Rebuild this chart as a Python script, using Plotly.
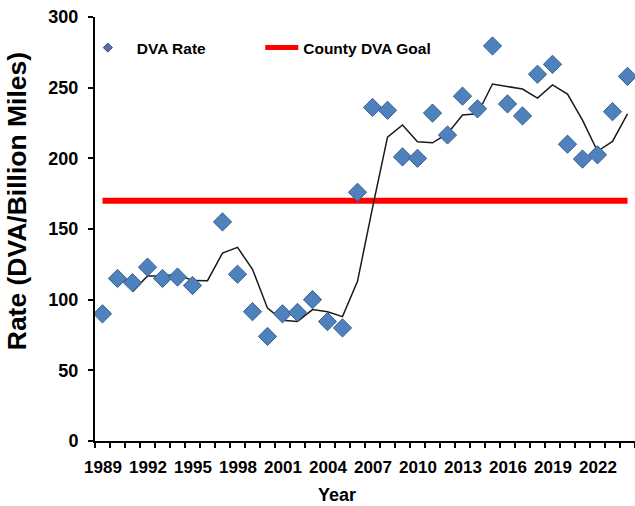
import plotly.graph_objects as go

years = list(range(1989, 2025))
dva_rate = [90, 115, 112, 123, 115, 116, 110, None, 155, 118, 91.5, 74, 90, 91, 100, 84.5,
            80, 176, 236, 234, 201, 200, 232, 216.5, 244, 235, 279.5, 238.5, 230, 259.5,
            266.5, 210, 199.5, 202.5, 233, 258]
moving_avg = [None, None, 105.7, 116.7, 116.7, 118, 113.5, 113.4, 133, 137, 121.5, 94,
              85.5, 84.5, 93, 91.5, 88, 113, 165, 215, 223.6, 211.8, 211, 217.5, 230.7,
              231.5, 252.6, 250.8, 249, 242.6, 252, 245.5, 227, 205, 212, 231.5]
goal = 170
label_years = [1989, 1992, 1995, 1998, 2001, 2004, 2007, 2010, 2013, 2016, 2019, 2022]
y_ticks = [0, 50, 100, 150, 200, 250, 300]

FONT = "Arial, Liberation Sans, sans-serif"
BLUE = "#4f81bd"
EDGE = "#34608f"

# category boundaries for tick marks; labels shifted to category centres
boundaries = [y - 0.5 for y in years] + [years[-1] + 0.5]
boundary_text = [str(int(b + 0.5)) if int(b + 0.5) in label_years else "" for b in boundaries]

fig = go.Figure()
fig.add_trace(go.Scatter(
    x=[years[0], years[-1]], y=[goal, goal], mode="lines",
    line=dict(color="#ff0000", width=6), name="County DVA Goal", showlegend=False))
fig.add_trace(go.Scatter(
    x=years, y=moving_avg, mode="lines", line=dict(color="#1a1a1a", width=1.5),
    showlegend=False, connectgaps=True))
fig.add_trace(go.Scatter(
    x=years, y=dva_rate, mode="markers", cliponaxis=False,
    marker=dict(symbol="diamond", size=14, color=BLUE, line=dict(color=EDGE, width=1)),
    showlegend=False, name="DVA Rate"))
# legend entries
fig.add_trace(go.Scatter(
    x=[None], y=[None], mode="markers", name="DVA Rate", legend="legend",
    marker=dict(symbol="diamond", size=7, color="#5a6aa8", line=dict(color="#3a4a80", width=1))))
fig.add_trace(go.Scatter(
    x=[None], y=[None], mode="lines", name="County DVA Goal", legend="legend2",
    line=dict(color="#ff0000", width=5)))

legend_font = dict(size=15.5, family=FONT, weight="bold")
fig.update_layout(
    width=635, height=506,
    margin=dict(l=95, r=0, t=17, b=65),
    paper_bgcolor="white", plot_bgcolor="white",
    font=dict(family=FONT, color="black"),
    legend=dict(x=-0.03, xanchor="left", y=0.967, yanchor="top", itemwidth=48,
                font=legend_font, bgcolor="rgba(0,0,0,0)"),
    legend2=dict(x=0.306, xanchor="left", y=0.967, yanchor="top", itemwidth=33,
                 font=legend_font, bgcolor="rgba(0,0,0,0)"),
    xaxis=dict(range=[1988.5, 2024.5], tickmode="array", tickvals=boundaries,
               ticktext=boundary_text, ticks="outside", ticklen=5, tickcolor="black",
               tickwidth=1.5, automargin=False, ticklabelshift=8,
               showline=True, linecolor="black", linewidth=2, showgrid=False,
               zeroline=False,
               tickfont=dict(size=17, family=FONT, weight="bold"),
               ticklabelstandoff=5),
    yaxis=dict(range=[0, 300], tickmode="array", tickvals=y_ticks, automargin=False,
               ticks="outside", ticklen=5, tickcolor="black", tickwidth=1.5,
               showline=True, linecolor="black", linewidth=2, showgrid=False,
               zeroline=False,
               tickfont=dict(size=18, family=FONT, weight="bold"),
               ticklabelstandoff=6),
    annotations=[
        dict(text="Rate (DVA/Billion Miles)", textangle=-90, xref="paper", yref="paper",
             x=-0.144, y=0.566, xanchor="center", yanchor="middle", showarrow=False,
             font=dict(size=26.5, family=FONT, weight="bold", color="black")),
        dict(text="Year", xref="paper", yref="paper",
             x=(337 - 95) / 540, y=-(495 - 441) / 424, xanchor="center", yanchor="middle",
             showarrow=False, font=dict(size=18, family=FONT, weight="bold", color="black")),
    ],
)

fig.write_html("out.html", post_script="document.body.style.margin='0';",
               config={"displayModeBar": False})
